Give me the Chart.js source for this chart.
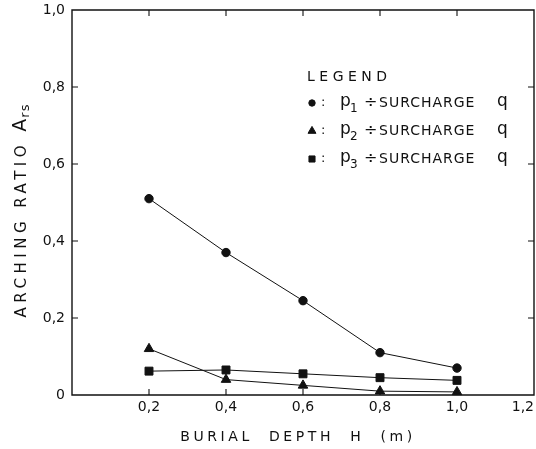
<!DOCTYPE html>
<html>
<head>
<meta charset="utf-8">
<script src="https://cdn.jsdelivr.net/npm/chart.js@4/dist/chart.umd.min.js"></script>
<style>
  html, body { margin: 0; padding: 0; background: #fff; }
  #wrap { width: 536px; height: 449px; position: relative; }
</style>
</head>
<body>
<div id="wrap"><canvas id="c"></canvas></div>
<script>
// Burial depth H (m) at which each ratio was measured
const depths = [0.2, 0.4, 0.6, 0.8, 1.0];
// Arching ratio A_rs for each pressure cell / surcharge q
const p1Ratio = [0.51, 0.37, 0.245, 0.11, 0.07];
const p2Ratio = [0.12, 0.04, 0.025, 0.01, 0.008];
const p3Ratio = [0.062, 0.065, 0.055, 0.045, 0.038];
// Axis ticks (the x origin carries no label of its own)
const xTicks = [0, 0.2, 0.4, 0.6, 0.8, 1.0, 1.2];
const yTicks = [0, 0.2, 0.4, 0.6, 0.8, 1.0];
// Legend entries
const legendTitle = 'LEGEND';
const legendSubs = ['1', '2', '3'];

const INK = '#111';
const FONT = '"DejaVu Sans", "Liberation Sans", sans-serif';

function pairs(ys) { return depths.map((d, i) => ({ x: d, y: ys[i] })); }
function fmt(v) { return v === 0 ? '0' : v.toFixed(1).replace('.', ','); }

const series = [
  { data: p1Ratio, style: 'circle', radius: 4.2 },
  { data: p2Ratio, style: 'triangle', radius: 5.5 },
  { data: p3Ratio, style: 'rect', radius: 5.6 }
];

// Plot frame with inward tick marks on all four sides
const frame = {
  id: 'frame',
  beforeDatasetsDraw(chart) {
    const ctx = chart.ctx;
    const a = chart.chartArea;
    const xs = chart.scales.x, ys = chart.scales.y;
    ctx.save();
    ctx.setLineDash([]);
    ctx.globalAlpha = 1;
    ctx.strokeStyle = INK;
    ctx.lineWidth = 1.4;
    ctx.beginPath();
    ctx.rect(a.left, a.top, a.right - a.left, a.bottom - a.top);
    ctx.stroke();

    const T = 6;
    ctx.lineWidth = 1.1;
    ctx.beginPath();
    xTicks.forEach(v => {
      if (v <= 0 || v >= 1.2) return;
      const px = xs.getPixelForValue(v);
      ctx.moveTo(px, a.bottom); ctx.lineTo(px, a.bottom - T);
      ctx.moveTo(px, a.top); ctx.lineTo(px, a.top + T);
    });
    yTicks.forEach(v => {
      if (v <= 0 || v >= 1) return;
      const py = ys.getPixelForValue(v);
      ctx.moveTo(a.left, py); ctx.lineTo(a.left + T, py);
      ctx.moveTo(a.right, py); ctx.lineTo(a.right - T, py);
    });
    ctx.stroke();
    ctx.restore();
  }
};

// Axis titles and the legend block inside the plot
const annotations = {
  id: 'annotations',
  afterDraw(chart) {
    const ctx = chart.ctx;
    ctx.save();
    ctx.fillStyle = INK;
    ctx.textBaseline = 'middle';

    // x title
    ctx.font = '14px ' + FONT;
    ctx.letterSpacing = '3.6px';
    ctx.textAlign = 'center';
    ctx.fillText('BURIAL  DEPTH  H  (m)', 298, 437);

    // y title, rotated, with subscript
    ctx.save();
    ctx.translate(22, 211);
    ctx.rotate(-Math.PI / 2);
    ctx.textAlign = 'left';
    const main = 'ARCHING RATIO ';
    ctx.font = '15px ' + FONT;
    ctx.letterSpacing = '4.5px';
    const w1 = ctx.measureText(main).width;
    ctx.font = '19px ' + FONT;
    ctx.letterSpacing = '0px';
    const wA = ctx.measureText('A').width;
    ctx.font = '13px ' + FONT;
    ctx.letterSpacing = '1px';
    const w2 = ctx.measureText('rs').width;
    const start = -(w1 + wA + w2) / 2;
    ctx.font = '15px ' + FONT;
    ctx.letterSpacing = '4.5px';
    ctx.fillText(main, start, 0);
    ctx.font = '19px ' + FONT;
    ctx.letterSpacing = '0px';
    ctx.fillText('A', start + w1, -1);
    ctx.font = '13px ' + FONT;
    ctx.letterSpacing = '1px';
    ctx.fillText('rs', start + w1 + wA + 1, 4);
    ctx.restore();

    // legend
    ctx.textAlign = 'left';
    ctx.font = '14px ' + FONT;
    ctx.letterSpacing = '4.5px';
    ctx.fillText(legendTitle, 307, 77);
    const rowY = [103, 131, 159];
    series.forEach((s, i) => {
      const y = rowY[i];
      Chart.helpers.drawPoint(ctx, {
        pointStyle: s.style, radius: s.style === 'circle' ? 3.2 : (s.style === 'rect' ? 4.3 : 4.6),
        rotation: 0, borderWidth: 1
      }, 312, y);
      ctx.letterSpacing = '0px';
      ctx.font = '13px ' + FONT;
      ctx.fillText(':', 321, y);
      ctx.font = '17px ' + FONT;
      ctx.fillText('p', 340, y - 1);
      ctx.font = '12px ' + FONT;
      ctx.fillText(legendSubs[i], 350, y + 6);
      ctx.font = '16px ' + FONT;
      ctx.fillText('\u00F7', 364, y);
      ctx.font = '14px ' + FONT;
      ctx.letterSpacing = '1px';
      ctx.fillText('SURCHARGE', 379, y);
      ctx.letterSpacing = '0px';
      ctx.font = '17px ' + FONT;
      ctx.fillText('q', 497, y - 1);
    });
    ctx.restore();
  }
};

function stripPadding(s) {
  s.paddingLeft = 0; s.paddingRight = 0; s.paddingTop = 0; s.paddingBottom = 0;
}

new Chart(document.getElementById('c'), {
  type: 'line',
  data: {
    datasets: series.map(s => ({
      data: pairs(s.data),
      borderColor: INK,
      backgroundColor: INK,
      borderWidth: 1,
      pointStyle: s.style,
      pointRadius: s.radius,
      pointBorderWidth: 1,
      tension: 0,
      clip: false
    }))
  },
  options: {
    responsive: true,
    maintainAspectRatio: false,
    animation: false,
    events: [],
    layout: { autoPadding: false, padding: { top: 10, right: 2, left: 0, bottom: 0 } },
    plugins: { legend: { display: false }, tooltip: { enabled: false } },
    scales: {
      x: {
        type: 'linear', min: 0, max: 1.2,
        afterBuildTicks(s) { s.ticks = xTicks.map(v => ({ value: v })); },
        afterFit(s) { s.height = 54; stripPadding(s); },
        grid: { display: false, drawTicks: false },
        border: { display: false },
        ticks: {
          color: INK, padding: 4, maxRotation: 0, autoSkip: false, align: 'inner',
          font: { family: FONT, size: 14 },
          callback: v => (v === 0 ? '' : fmt(v))
        }
      },
      y: {
        type: 'linear', min: 0, max: 1.0,
        afterBuildTicks(s) { s.ticks = yTicks.map(v => ({ value: v })); },
        afterFit(s) { s.width = 72; stripPadding(s); },
        grid: { display: false, drawTicks: false },
        border: { display: false },
        ticks: {
          color: INK, padding: 7,
          font: { family: FONT, size: 14 },
          callback: v => fmt(v)
        }
      }
    }
  },
  plugins: [frame, annotations]
});
</script>
</body>
</html>
